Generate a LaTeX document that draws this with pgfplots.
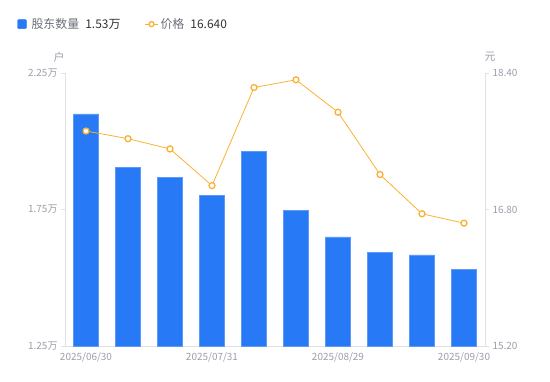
\documentclass[border=0pt]{standalone}
\usepackage{pgfplots}
\pgfplotsset{compat=1.18}
\usepackage{fontspec}
\setmainfont{Noto Sans CJK SC}
\definecolor{barblue}{HTML}{2879F5}
\definecolor{baredge}{HTML}{5C9BF8}
\definecolor{lineorange}{HTML}{F9B233}
\definecolor{axgrey}{HTML}{E0E1E6}
\definecolor{tickgrey}{HTML}{9C9DAB}
\definecolor{leggrey}{HTML}{6B6E78}
\definecolor{legdark}{HTML}{333333}
\begin{document}
\begin{tikzpicture}[x=1bp,y=1bp]
\path[use as bounding box] (0,0) rectangle (550,381);
\begin{axis}[
  at={(65bp,35bp)}, anchor=south west,
  scale only axis, width=420bp, height=273bp,
  xmin=-0.5, xmax=9.5, ymin=1.25, ymax=2.25,
  axis y line*=left, axis x line*=bottom,
  axis line style={draw=axgrey, line width=0.8bp, -},
  xtick={0,3,6,9},
  xticklabels={2025/06/30,2025/07/31,2025/08/29,2025/09/30},
  x tick style={draw=none},
  ytick={1.25,1.75,2.25},
  yticklabels={1.25万,1.75万,2.25万},
  y tick style={draw=axgrey, line width=0.8bp},
  tick align=outside, major tick length=4bp,
  ticklabel style={font=\fontsize{10}{12}\selectfont, text=tickgrey},
  xticklabel style={yshift=1bp},
  yticklabel style={xshift=0bp},
  ybar, bar width=25bp,
  clip=false,
]
\addplot[fill=barblue, draw=baredge, line width=0.6bp, bar shift=0pt] coordinates {
(0,2.100) (1,1.905) (2,1.868) (3,1.803) (4,1.962)
(5,1.747) (6,1.650) (7,1.594) (8,1.584) (9,1.531)};
\end{axis}
\begin{axis}[
  at={(65bp,35bp)}, anchor=south west,
  scale only axis, width=420bp, height=273bp,
  xmin=-0.5, xmax=9.5, ymin=15.2, ymax=18.4,
  axis y line*=right, axis x line=none,
  axis line style={draw=axgrey, line width=0.8bp, -},
  ytick={15.2,16.8,18.4},
  y tick style={draw=axgrey, line width=0.8bp},
  tick align=outside, major tick length=4bp,
  ticklabel style={font=\fontsize{10}{12}\selectfont, text=tickgrey},
  yticklabel style={/pgf/number format/.cd, fixed, fixed zerofill, precision=2, assume math mode=true},
  clip=false,
  legend columns=2,
  legend style={at={(-0.114,1.179)}, anchor=west, draw=none, fill=none,
    inner sep=0pt, font=\fontsize{12}{14}\selectfont,
    /tikz/every even column/.append style={column sep=22bp}},
  legend cell align=left,
]
\addlegendimage{legend image code/.code={\fill[barblue, rounded corners=1bp] (0bp,-4.5bp) rectangle (9bp,4.5bp);
  \path[draw=none, fill=none] (0bp,0bp) rectangle (12bp,0.1bp);}}
\addlegendentry{\textcolor{leggrey}{股东数量}\hspace{6bp}\textcolor{legdark}{1.53万}}
\addplot[color=lineorange, line width=0.8bp, mark=*, mark size=3bp,
  mark options={fill=white, draw=lineorange, line width=1.3bp},
  legend image code/.code={\draw[lineorange, line width=1bp] (0bp,0bp) -- (13bp,0bp);
    \draw[lineorange, fill=white, line width=1.3bp] (6.5bp,0bp) circle (2.5bp);}]
coordinates {
(0,17.72) (1,17.63) (2,17.51) (3,17.08) (4,18.23)
(5,18.32) (6,17.94) (7,17.21) (8,16.75) (9,16.64)};
\addlegendentry{\textcolor{leggrey}{价格}\hspace{6bp}\textcolor{legdark}{16.640}}
\end{axis}
\node[text=tickgrey, font=\fontsize{11}{13}\selectfont] at (59,324) {户};
\node[text=tickgrey, font=\fontsize{11}{13}\selectfont] at (490,324) {元};
\end{tikzpicture}
\end{document}
